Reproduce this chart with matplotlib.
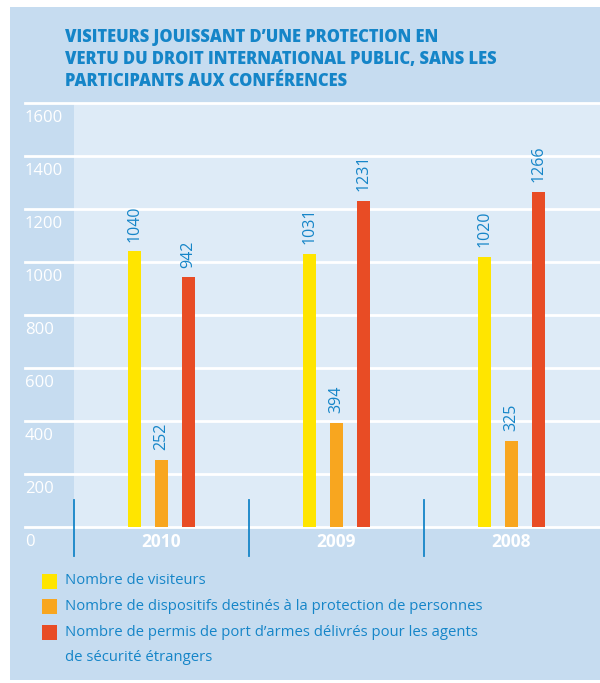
import matplotlib.pyplot as plt
from matplotlib.patches import Rectangle
import matplotlib.transforms as mtransforms

years = ['2010', '2009', '2008']
visiteurs = [1040, 1031, 1020]
dispositifs = [252, 394, 325]
permis = [942, 1231, 1266]
series = [visiteurs, dispositifs, permis]
labels = ['Nombre de visiteurs',
          'Nombre de dispositifs destinés à la protection de personnes',
          'Nombre de permis de port d\u2019armes délivrés pour les agents\nde sécurité étrangers']
colors = ['#ffe500', '#f8a61f', '#e84c25']
yticks = [0, 200, 400, 600, 800, 1000, 1200, 1400, 1600]
title = ['VISITEURS JOUISSANT D\u2019UNE PROTECTION EN',
         'VERTU DU DROIT INTERNATIONAL PUBLIC, SANS LES',
         'PARTICIPANTS AUX CONFÉRENCES']

panel = '#c6dcf0'
light = '#deebf7'
blue = '#1585c8'

plt.rcParams['font.family'] = ['Open Sans', 'DejaVu Sans']

W, H = 600, 683
fig = plt.figure(figsize=(W / 100, H / 100), dpi=100, facecolor='white')

def fx(px):
    return px / W

def fy(py):
    return 1 - py / H

# background panel
fig.patches.append(Rectangle((fx(10), fy(680)), fx(590), (680 - 7) / H,
                             transform=fig.transFigure, facecolor=panel,
                             edgecolor='none', zorder=-5))

# title
for k, line in enumerate(title):
    fig.text(fx(65), fy(35 + 22 * k), line, ha='left', va='center_baseline',
             fontsize=11.9, fontweight='heavy', color=blue)

# axes: x from 25 to 600 px, y from 103 (1600) to 527 (0)
ax = fig.add_axes([fx(25), fy(527), fx(575), (527 - 103) / H])
ax.set_facecolor('none')
gs = 175.0
ax.set_xlim(-136.5 / gs, (575 - 136.5) / gs)
ax.set_ylim(0, 1600)
for s in ax.spines.values():
    s.set_visible(False)
ax.set_xticks([])
ax.set_yticks([])

# lighter plotting area
ax.add_patch(Rectangle((-0.5, 0), 10, 1600, facecolor=light, edgecolor='none', zorder=0))

# gridlines
for t in yticks:
    ax.axhline(t, color='white', lw=2, zorder=1, clip_on=False)

# y tick labels just below each line
off = mtransforms.offset_copy(ax.transData, fig=fig, x=0, y=-15, units='dots')
blend = mtransforms.blended_transform_factory(ax.transAxes, off)
for t in yticks:
    ax.text(0, t, str(t), transform=blend, ha='left', va='center',
            fontsize=12, color='white')

# bars
bw = 13 / gs
step = 27 / gs
xs = range(len(years))
for i, (vals, c) in enumerate(zip(series, colors)):
    pos = [x + (i - 1) * step for x in xs]
    ax.bar(pos, vals, width=bw, color=c, zorder=2, label=labels[i])
    for p, v in zip(pos, vals):
        ax.annotate(str(v), (p, v), xytext=(0, 7), textcoords='offset points',
                    rotation=90, ha='center', va='bottom', fontsize=11.5,
                    color=blue, zorder=3)

# separators and year labels below zero line
sep_tr = mtransforms.blended_transform_factory(ax.transData, fig.transFigure)
for xsep in [-0.5, 0.5, 1.5]:
    ax.plot([xsep, xsep], [fy(500), fy(556)], transform=sep_tr, color=blue,
            lw=1.3, clip_on=False, zorder=4)
for x, yr in zip(xs, years):
    ax.text(x, fy(542), yr, transform=sep_tr, ha='center', va='center',
            fontsize=12.5, fontweight='bold', color='white')

# legend
rows = [581, 606, 632]
for c, lab, r in zip(colors, labels, rows):
    fig.patches.append(Rectangle((fx(42), fy(r + 7.5)), fx(15), 15 / H,
                                 transform=fig.transFigure, facecolor=c,
                                 edgecolor='none'))
    for k, part in enumerate(lab.split('\n')):
        fig.text(fx(65), fy(r + 25.5 * k), part, ha='left', va='center',
                 fontsize=10.7, color=blue)

fig.savefig('out.png', dpi=100, facecolor='white')
